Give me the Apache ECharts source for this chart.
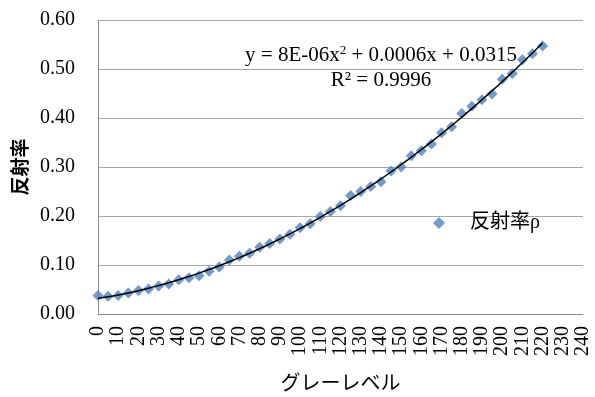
<!DOCTYPE html>
<html>
<head>
<meta charset="utf-8">
<script src="https://cdn.jsdelivr.net/npm/echarts@6/dist/echarts.min.js"></script>
<style>
  html, body { margin: 0; padding: 0; background: #fff; }
  #chart { width: 595px; height: 397px; }
</style>
</head>
<body>
<div id="chart"></div>
<script>
// グレーレベル (x) and 反射率 (y)
var grayLevels = [0, 5, 10, 15, 20, 25, 30, 35, 40, 45, 50, 55, 60, 65, 70, 75, 80, 85, 90, 95,
  100, 105, 110, 115, 120, 125, 130, 135, 140, 145, 150, 155, 160, 165, 170, 175, 180, 185,
  190, 195, 200, 205, 210, 215, 220];
var reflectance = [0.038, 0.036, 0.038, 0.043, 0.048, 0.051, 0.057, 0.061, 0.070, 0.074,
  0.078, 0.087, 0.096, 0.110, 0.118, 0.124, 0.136, 0.144, 0.153, 0.163,
  0.176, 0.184, 0.199, 0.209, 0.221, 0.242, 0.250, 0.260, 0.270, 0.292,
  0.300, 0.323, 0.333, 0.347, 0.370, 0.382, 0.409, 0.424, 0.437, 0.449,
  0.479, 0.491, 0.519, 0.531, 0.547];
var seriesName = '反射率ρ';
var equationText = ['y = 8E-06x', '2', ' + 0.0006x + 0.0315'];
var r2Text = 'R² = 0.9996';

// 2次の最小二乗近似 (Excelの近似曲線と同じ)
function quadFit(xs, ys) {
  var s = [0, 0, 0, 0, 0], t = [0, 0, 0];
  for (var i = 0; i < xs.length; i++) {
    var x = xs[i], p = 1;
    for (var k = 0; k < 5; k++) { s[k] += p; if (k < 3) t[k] += p * ys[i]; p *= x; }
  }
  var m = [[s[0], s[1], s[2], t[0]], [s[1], s[2], s[3], t[1]], [s[2], s[3], s[4], t[2]]];
  for (var c = 0; c < 3; c++) {
    for (var r = c + 1; r < 3; r++) {
      var f = m[r][c] / m[c][c];
      for (var j = c; j < 4; j++) m[r][j] -= f * m[c][j];
    }
  }
  var b = [0, 0, 0];
  for (var r2 = 2; r2 >= 0; r2--) {
    var v = m[r2][3];
    for (var j2 = r2 + 1; j2 < 3; j2++) v -= m[r2][j2] * b[j2];
    b[r2] = v / m[r2][r2];
  }
  return b;
}
var coef = quadFit(grayLevels, reflectance);
var trend = grayLevels.map(function (x) {
  return [x, coef[0] + coef[1] * x + coef[2] * x * x];
});

var points = grayLevels.map(function (x, i) { return [x, reflectance[i]]; });

var serif = "'Liberation Serif', 'Times New Roman', serif";
var chart = echarts.init(document.getElementById('chart'));
var option = {
  animation: false,
  grid: { left: 98, right: 12, top: 20, bottom: 81 },
  xAxis: {
    type: 'value',
    min: 0, max: 240, interval: 10,
    name: 'グレーレベル',
    nameLocation: 'middle',
    nameGap: 58,
    nameTextStyle: { fontFamily: "'Noto Sans CJK JP'", fontSize: 20, color: '#000' },
    axisLine: { lineStyle: { color: '#8c8c8c', width: 1 } },
    axisTick: { show: false },
    splitLine: { show: false },
    axisLabel: { rotate: 90, margin: 12, fontFamily: serif, fontSize: 20, color: '#000' }
  },
  yAxis: {
    type: 'value',
    min: 0, max: 0.6, interval: 0.1,
    name: '反射率',
    nameLocation: 'middle',
    nameGap: 66,
    nameTextStyle: { fontFamily: "'Noto Sans CJK JP'", fontSize: 19, fontWeight: 'bold', color: '#000' },
    axisLine: { show: true, lineStyle: { color: '#8c8c8c', width: 1 } },
    axisTick: { show: false },
    splitLine: { lineStyle: { color: '#a6a6a6', width: 1 } },
    axisLabel: {
      margin: 23, fontFamily: serif, fontSize: 20, color: '#000',
      formatter: function (v) { return v.toFixed(2); }
    }
  },
  legend: {
    data: [{ name: seriesName, icon: 'diamond' }],
    left: 428, top: 208,
    itemWidth: 12, itemHeight: 12,
    textStyle: { fontFamily: serif + ", 'Noto Sans CJK JP'", fontSize: 20, color: '#000', padding: [0, 0, 0, 20] }
  },
  graphic: [
    {
      type: 'text', x: 381, y: 55,
      style: {
        text: '{a|' + equationText[0] + '}{s|' + equationText[1] + '}{a|' + equationText[2] + '}',
        align: 'center', verticalAlign: 'middle',
        rich: {
          a: { fontFamily: serif, fontSize: 21, fill: '#000' },
          s: { fontFamily: serif, fontSize: 13, fill: '#000', verticalAlign: 'top', padding: [0, 0, 9, 0] }
        }
      }
    },
    {
      type: 'text', x: 381, y: 80,
      style: { text: r2Text, align: 'center', verticalAlign: 'middle', fontFamily: serif, fontSize: 21, fill: '#000' }
    }
  ],
  series: [
    {
      name: seriesName,
      type: 'scatter',
      symbol: 'diamond',
      symbolSize: 11,
      itemStyle: { color: '#4f81bd' },
      data: points,
      z: 2
    },
    {
      name: 'trend',
      type: 'line',
      smooth: true,
      showSymbol: false,
      symbol: 'none',
      lineStyle: { color: '#000', width: 1.5 },
      data: trend,
      z: 3
    }
  ]
};
chart.setOption(option);
</script>
</body>
</html>
